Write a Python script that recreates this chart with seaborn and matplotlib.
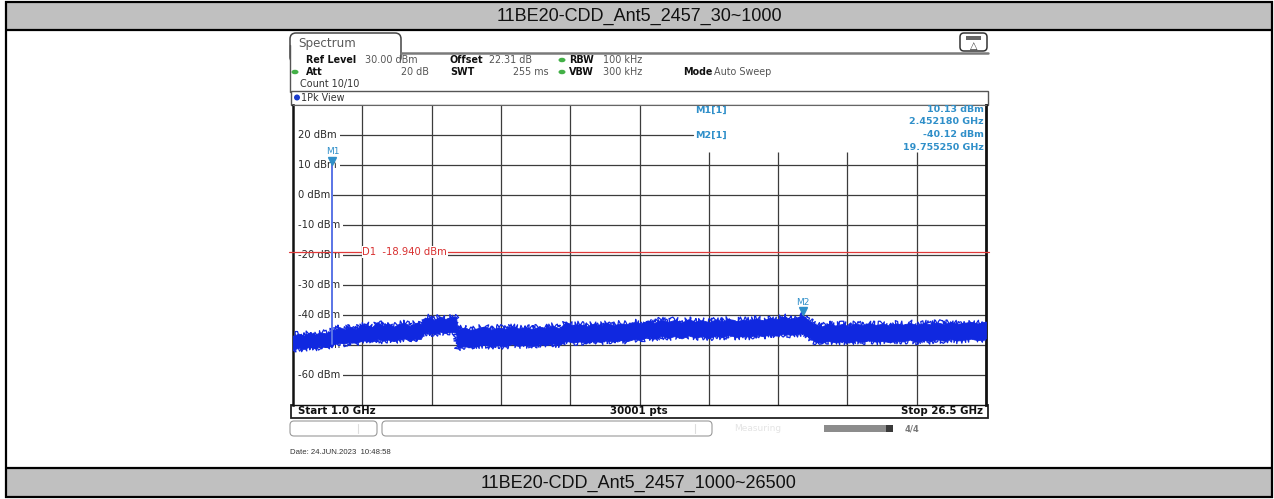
import matplotlib
matplotlib.use("Agg")
import matplotlib.pyplot as plt
import matplotlib.transforms as mtransforms
from matplotlib.patches import Rectangle, FancyBboxPatch, Ellipse
import seaborn as sns

# ---------------- data ----------------
table_title_top = "11BE20-CDD_Ant5_2457_30~1000"
table_title_bottom = "11BE20-CDD_Ant5_2457_1000~26500"

f_start, f_stop = 1.0, 26.5          # GHz
ref_level, y_bottom = 30.0, -70.0    # dBm
level_ticks = [20, 10, 0, -10, -20, -30, -40, -50, -60]
n_div = 10

d1_level = -18.94
m1_freq, m1_level = 2.452180, 10.13
m2_freq, m2_level = 19.755250, -40.12
spike_base = -49.6

trace_freq = [1.00, 1.20, 1.40, 1.60, 1.80, 2.00, 2.20, 2.40,
              2.45,
              2.50, 2.70, 2.90, 3.10, 3.30, 3.50,
              3.70, 3.90, 4.10, 4.30, 4.50, 4.70, 4.90, 5.10, 5.30, 5.50, 5.70,
              5.80, 6.00, 6.20, 6.40, 6.60, 6.80, 7.00,
              7.05, 7.30, 7.55, 7.80, 8.05, 8.30, 8.55, 8.80, 9.05, 9.30, 9.55, 9.80, 10.05, 10.30, 10.55, 10.80,
              11.05, 11.30, 11.55, 11.80, 12.05, 12.30, 12.55, 12.80, 13.05, 13.30, 13.55, 13.80,
              14.05, 14.30, 14.55, 14.80, 15.05, 15.30, 15.55, 15.80, 16.05, 16.30, 16.55, 16.80, 17.05, 17.30, 17.55, 17.80, 18.05, 18.30,
              18.55, 18.80, 19.05, 19.30, 19.55, 19.755, 19.95,
              20.20, 20.45, 20.70, 20.95, 21.20, 21.45, 21.70, 21.95, 22.20, 22.45, 22.70, 22.95, 23.20, 23.45, 23.70, 23.95,
              24.20, 24.45, 24.70, 24.95, 25.20, 25.45, 25.70, 25.95, 26.20, 26.50]

trace_upper = [-47.0, -46.2, -46.8, -45.9, -46.5, -45.8, -46.1, -45.4,
               -44.6,
               -45.2, -44.0, -44.8, -43.9, -44.6, -43.6,
               -43.2, -44.1, -42.4, -43.5, -42.8, -43.9, -43.0, -42.6, -43.6, -42.7, -42.9,
               -41.2, -40.8, -41.6, -40.5, -41.3, -40.9, -40.6,
               -44.8, -44.2, -45.0, -44.4, -43.8, -44.9, -44.1, -44.6, -43.7, -44.5, -44.0, -44.7, -43.9, -44.3, -43.6, -44.4,
               -42.3, -43.6, -43.0, -43.8, -42.9, -43.5, -42.6, -43.4, -42.8, -43.1, -42.4, -42.9,
               -41.8, -42.6, -41.5, -42.3, -41.6, -42.5, -41.4, -42.2, -41.7, -42.4, -41.5, -42.1, -41.3, -42.0, -41.6, -41.9, -41.2, -41.8,
               -40.9, -41.5, -40.6, -41.2, -40.8, -40.1, -41.6,
               -43.2, -43.8, -42.9, -43.5, -43.0, -43.7, -42.8, -43.4, -42.7, -43.3, -42.9, -43.6, -42.8, -43.2, -42.6, -43.4,
               -42.7, -43.1, -42.5, -43.0, -42.4, -42.9, -42.6, -42.3, -42.8, -42.2]

trace_lower = [-51.6, -50.9, -51.3, -50.6, -51.0, -50.4, -50.7, -50.0,
               -49.6,
               -49.8, -49.2, -49.5, -48.9, -49.3, -48.7,
               -48.4, -48.9, -48.0, -48.6, -48.2, -48.7, -48.1, -47.8, -48.5, -47.9, -48.0,
               -46.2, -45.7, -46.4, -45.5, -46.0, -45.6, -45.9,
               -51.0, -50.4, -50.8, -50.2, -49.9, -50.6, -50.0, -50.5, -49.7, -50.3, -49.9, -50.4, -49.6, -50.1, -49.5, -50.0,
               -48.6, -49.2, -48.8, -49.3, -48.5, -49.0, -48.4, -48.9, -48.3, -48.7, -48.0, -48.4,
               -47.2, -47.9, -46.9, -47.6, -47.0, -47.8, -46.8, -47.5, -47.1, -47.7, -46.9, -47.4, -46.7, -47.3, -47.0, -47.2, -46.6, -47.1,
               -46.4, -46.9, -46.2, -46.6, -46.3, -45.9, -47.2,
               -48.9, -49.3, -48.6, -49.1, -48.7, -49.2, -48.5, -49.0, -48.4, -48.9, -48.6, -49.1, -48.5, -48.8, -48.2, -48.9,
               -48.3, -48.7, -48.1, -48.6, -48.0, -48.5, -48.2, -47.9, -48.4, -47.8]

# ---------------- style ----------------
sns.set_theme(style="white")
plt.rcParams['font.family'] = ['DejaVu Sans']

W, H = 1274, 499
BLUE = "#1028e0"
MK = "#2f8fc9"
GRID = "#3c3c3c"

fig = plt.figure(figsize=(W / 100, H / 100), dpi=100)
bg = fig.add_axes([0, 0, 1, 1])
bg.set_xlim(0, W)
bg.set_ylim(H, 0)
bg.axis("off")

# ---- table frame ----
bg.add_patch(Rectangle((6, 2), 1266, 28, fc="#c0c0c0", ec="none"))
bg.add_patch(Rectangle((6, 468), 1266, 29, fc="#c0c0c0", ec="none"))
for y in (2, 30, 468, 497):
    bg.plot([5, 1273], [y, y], color="black", lw=1.6, solid_capstyle="butt")
for x in (6, 1272):
    bg.plot([x, x], [1, 498], color="black", lw=1.6, solid_capstyle="butt")
bg.text(639, 16.5, table_title_top, ha="center", va="center", fontsize=13,
        family="Liberation Sans", color="#111")
bg.text(639, 483, table_title_bottom, ha="center", va="center", fontsize=13,
        family="Liberation Sans", color="#111")

# ---- analyzer window decorations ----
bg.add_patch(FancyBboxPatch((290, 33), 111, 30, boxstyle="round,pad=0,rounding_size=6",
                            fc="white", ec="#444", lw=1.1))
bg.add_patch(Rectangle((291, 54), 109, 12, fc="white", ec="none", zorder=3))
bg.plot([401, 988], [53, 53], color="#7a7a7a", lw=1.8, zorder=4)
bg.plot([290, 290], [45, 92], color="#555", lw=1.0, zorder=4)
bg.text(298, 43.5, "Spectrum", fontsize=8.6, color="#5a5a5a", va="center", zorder=5)

# icon top right
bg.add_patch(FancyBboxPatch((960, 33), 27, 18, boxstyle="round,pad=0,rounding_size=4",
                            fc="white", ec="#333", lw=1.1))
bg.add_patch(Rectangle((966, 36), 15, 4, fc="#666", ec="none"))
bg.text(973.5, 46, "\u25b3", ha="center", va="center", fontsize=7, color="#333")

# header rows
hb = dict(fontsize=6.9, va="center", color="#111", fontweight="bold")
hv = dict(fontsize=6.9, va="center", color="#555")
bg.text(306, 60, "Ref Level", **hb)
bg.text(365, 60, "30.00 dBm", **hv)
bg.text(450, 60, "Offset", **hb)
bg.text(489, 60, "22.31 dB", **hv)
bg.text(569, 60, "RBW", **hb)
bg.text(603, 60, "100 kHz", **hv)
bg.text(306, 72, "Att", **hb)
bg.text(429, 72, "20 dB", ha="right", **hv)
bg.text(450, 72, "SWT", **hb)
bg.text(549, 72, "255 ms", ha="right", **hv)
bg.text(569, 72, "VBW", **hb)
bg.text(603, 72, "300 kHz", **hv)
bg.text(683, 72, "Mode", **hb)
bg.text(714, 72, "Auto Sweep", **hv)
bg.text(300, 84, "Count 10/10", fontsize=6.9, va="center", color="#333")
for (ex, ey) in [(562, 60), (562, 72), (295, 72)]:
    bg.add_patch(Ellipse((ex, ey), 7, 4.5, fc="#43b047", ec="none"))

# 1Pk View bar
bg.add_patch(Rectangle((291, 91), 697, 14, fc="white", ec="#555", lw=1.0))
bg.add_patch(Ellipse((297, 97.5), 6, 6, fc="#1a3ccc", ec="none"))
bg.text(301, 97.5, "1Pk View", fontsize=6.9, va="center", color="#333")

# bottom bar
bg.add_patch(Rectangle((291, 405), 697, 13, fc="white", ec="#222", lw=1.3))
bg.text(298, 411.5, "Start 1.0 GHz", fontsize=7.4, fontweight="bold", va="center", color="#111")
bg.text(639, 411.5, "30001 pts", fontsize=7.4, fontweight="bold", va="center", ha="center", color="#111")
bg.text(983, 411.5, "Stop 26.5 GHz", fontsize=7.4, fontweight="bold", va="center", ha="right", color="#111")

# status bar
bg.add_patch(FancyBboxPatch((290, 421), 87, 15, boxstyle="round,pad=0,rounding_size=4",
                            fc="white", ec="#9a9a9a", lw=0.8))
bg.add_patch(FancyBboxPatch((382, 421), 330, 15, boxstyle="round,pad=0,rounding_size=4",
                            fc="white", ec="#9a9a9a", lw=0.8))
bg.plot([358, 358], [424, 433], color="#dddddd", lw=0.8)
bg.plot([695, 695], [424, 433], color="#dddddd", lw=0.8)
bg.text(734, 428.5, "Measuring", fontsize=6.5, va="center", color="#e4e4e4")
bg.add_patch(Rectangle((824, 425), 62, 7, fc="#8c8c8c", ec="none"))
bg.add_patch(Rectangle((886, 425), 7, 7, fc="#3a3a3a", ec="none"))
bg.text(912, 428.5, "4/4", fontsize=6, va="center", ha="center", color="#777", fontweight="bold")
bg.text(290, 452, "Date: 24.JUN.2023  10:48:58", fontsize=5.6, va="center", color="#333",
        family="Liberation Sans")

# ---- spectrum plot axes ----
PX_L, PX_R, PX_T, PX_B = 293, 986, 105, 405
ax = fig.add_axes([PX_L / W, 1 - PX_B / H, (PX_R - PX_L) / W, (PX_B - PX_T) / H])
ax.set_xlim(f_start, f_stop)
ax.set_ylim(y_bottom, ref_level)
ax.set_xticks([])
ax.set_yticks([])
ax.set_facecolor("white")
for side, (c, lw) in {"left": ("#111", 1.8), "right": ("#111", 2.0),
                      "top": ("#666", 0.8), "bottom": ("#111", 1.0)}.items():
    ax.spines[side].set_color(c)
    ax.spines[side].set_linewidth(lw)

def px_to_level(py):
    return ref_level - (py - PX_T) / (PX_B - PX_T) * (ref_level - y_bottom)

marker_box_level = px_to_level(152)
span = f_stop - f_start
for k in range(1, n_div):
    xv = f_start + k * span / n_div
    top = ref_level if (xv - f_start) / span < 0.52 else marker_box_level
    ax.vlines(xv, y_bottom, top, color=GRID, lw=0.9, zorder=1)

m2_line_end = (693 - PX_L) / (PX_R - PX_L)
for lvl in level_ticks:
    ax.axhline(lvl, xmin=0, xmax=(m2_line_end if lvl == 20 else 1), color=GRID, lw=0.9, zorder=1)
    ax.text(0.0068, lvl, f"{lvl} dBm", transform=ax.get_yaxis_transform(), fontsize=7.2,
            color="#2a2a2a", va="center", ha="left", zorder=2,
            bbox=dict(fc="white", ec="none", pad=2.4))

# display line D1
ax.axhline(d1_level, xmin=-0.006, xmax=1.004, color="#e03a3a", lw=0.9, zorder=3, clip_on=False)
ax.text(0.1, d1_level, "D1  -18.940 dBm", transform=ax.get_yaxis_transform(), fontsize=7.2,
        color="#d83030", va="center", ha="left", zorder=3.5,
        bbox=dict(fc="white", ec="none", pad=0.5))

# trace (noisy peak trace drawn as its envelope band)
band = ax.fill_between(trace_freq, trace_lower, trace_upper, color=BLUE, lw=0.6,
                       edgecolor=BLUE, zorder=5)
band.set_sketch_params(scale=2.6, length=1.6, randomness=5)
sns.lineplot(x=trace_freq, y=trace_upper, ax=ax, color=BLUE, lw=0.9, estimator=None, sort=False, zorder=5)
sns.lineplot(x=trace_freq, y=trace_lower, ax=ax, color=BLUE, lw=0.9, estimator=None, sort=False, zorder=5)
for ln in ax.lines[-2:]:
    ln.set_sketch_params(scale=3.2, length=1.4, randomness=6)
sns.lineplot(x=[m1_freq, m1_freq], y=[spike_base, m1_level], ax=ax, color="#5a74e6", lw=1.4,
             estimator=None, sort=False, zorder=6)

# markers
tri_off = mtransforms.offset_copy(ax.transData, fig=fig, x=0, y=4, units="dots")
lab_off = mtransforms.offset_copy(ax.transData, fig=fig, x=0, y=13, units="dots")
for mf, ml, name in [(m1_freq, m1_level, "M1"), (m2_freq, m2_level, "M2")]:
    ax.plot([mf], [ml], marker="v", ms=6, color=MK, transform=tri_off, zorder=7, clip_on=False)
    ax.text(mf, ml, name, transform=lab_off, fontsize=6.5, color=MK, ha="center", va="center", zorder=7)

# marker table
mt = dict(fontsize=6.8, color=MK, fontweight="bold", va="center")
fig.text(695 / W, 1 - 110 / H, "M1[1]", **mt)
fig.text(695 / W, 1 - 135 / H, "M2[1]", **mt)
fig.text(984 / W, 1 - 110 / H, f"{m1_level:.2f} dBm", ha="right", **mt)
fig.text(984 / W, 1 - 122 / H, f"{m1_freq:.6f} GHz", ha="right", **mt)
fig.text(984 / W, 1 - 135 / H, f"{m2_level:.2f} dBm", ha="right", **mt)
fig.text(984 / W, 1 - 147 / H, f"{m2_freq:.6f} GHz", ha="right", **mt)

fig.savefig("out.png", dpi=100)
